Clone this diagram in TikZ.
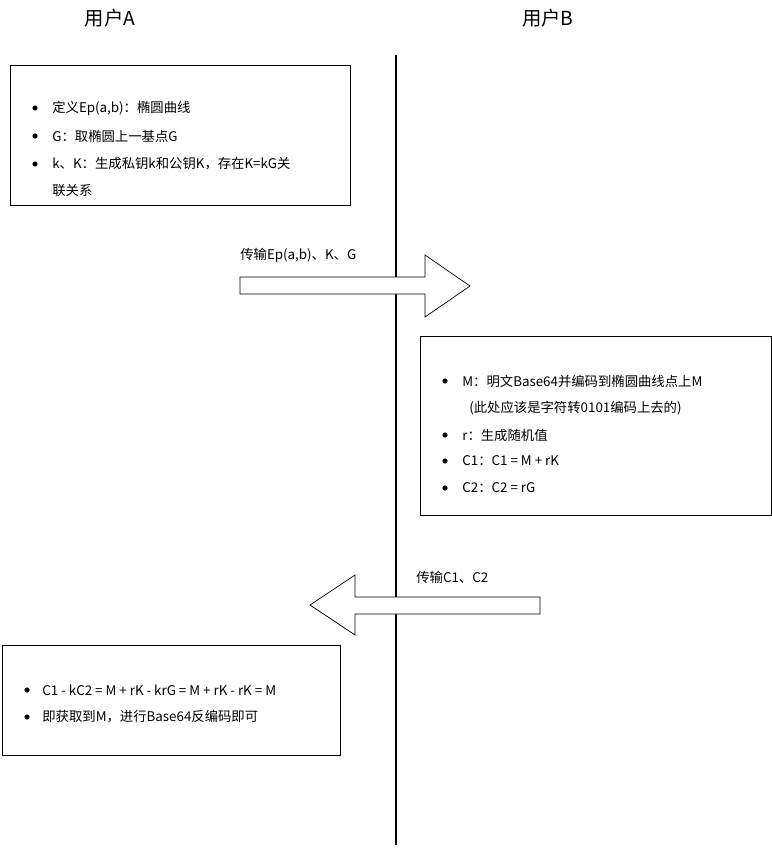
\documentclass[tikz,border=0pt]{standalone}
\usepackage{fontspec}
\setmainfont{Noto Sans CJK SC}
\usetikzlibrary{positioning}
\tikzset{
	title/.style={font=\fontsize{11pt}{13pt}\selectfont},
	item/.style={anchor=west,font=\fontsize{7.6pt}{9pt}\selectfont,inner sep=0pt},
	sendtext/.style={anchor=south west,font=\fontsize{7.6pt}{9pt}\selectfont,inner sep=0pt},
	bigarrow/.style={draw,thin,fill=white}
}
\newcommand{\dotat}[1]{\fill #1 circle (2.6);}
\begin{document}
\begin{tikzpicture}[x=0.02cm,y=-0.02cm]
\useasboundingbox (0,0) rectangle (771,848);
\node (ua) [title] at (110,18) {用户A};
\node (ub) [title] at (548,18) {用户B};
\draw[line width=1.7pt] (396,55) -- (396,845);
% A's key setup
\draw (10,65) rectangle (350,205);
\dotat{(35,108)} \node (a1) [item] at (52,108) {定义Ep(a,b)：椭圆曲线};
\dotat{(35,136)} \node (a2) [item] at (52,136) {G：取椭圆上一基点G};
\dotat{(35,164)} \node (a3) [item] at (52,164) {k、K：生成私钥k和公钥K，存在K=kG关};
\node (a4) [item] at (52,191) {联关系};
% send to B
\draw[bigarrow] (240,277) -- (425,277) -- (425,255) -- (470,286) -- (425,317) -- (425,294) -- (240,294) -- cycle;
\node (s1) [sendtext] at (240,263) {传输Ep(a,b)、K、G};
% B encrypts
\draw[fill=white] (420,336) rectangle (771,515);
\dotat{(445,381)} \node (b1) [item] at (462,381) {M：明文Base64并编码到椭圆曲线点上M};
\node (b2) [item] at (469,408) {(此处应该是字符转0101编码上去的)};
\dotat{(445,435)} \node (b3) [item] at (462,435) {r：生成随机值};
\dotat{(445,461)} \node (b4) [item] at (462,461) {C1：C1 = M + rK};
\dotat{(445,488)} \node (b5) [item] at (462,488) {C2：C2 = rG};
% send back to A
\draw[bigarrow] (540,597) -- (355,597) -- (355,575) -- (310,605) -- (355,635) -- (355,614) -- (540,614) -- cycle;
\node (s2) [sendtext] at (416,584) {传输C1、C2};
% A decrypts
\draw (2,645) rectangle (340,755);
\dotat{(27,690)} \node (c1) [item] at (42,690) {C1 - kC2 = M + rK - krG = M + rK - rK = M};
\dotat{(27,717)} \node (c2) [item] at (42,717) {即获取到M，进行Base64反编码即可};
\end{tikzpicture}
\end{document}
